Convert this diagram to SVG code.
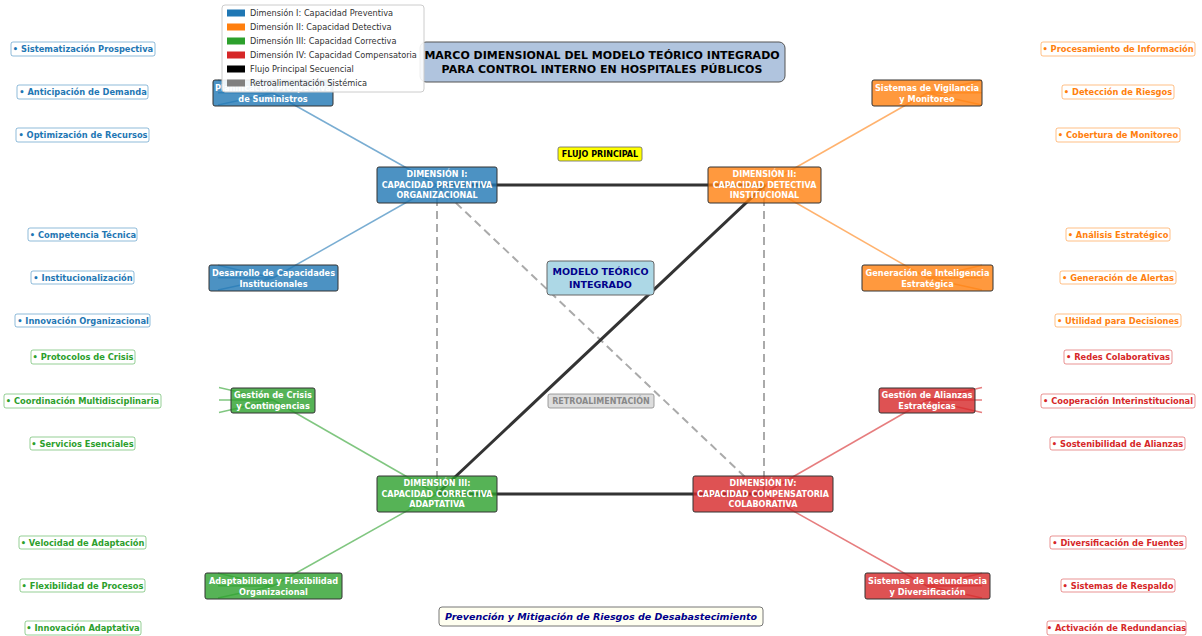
<svg xmlns="http://www.w3.org/2000/svg" width="1202" height="636" viewBox="0 0 1202 636">
<style>
text{font-family:"DejaVu Sans","Liberation Sans",sans-serif;}
.dim{stroke:#333;stroke-width:1;fill-opacity:0.8;}
.sub{stroke:#333;stroke-width:1;fill-opacity:0.8;}
.dt{fill:#fff;font-weight:bold;font-size:8px;text-anchor:middle;dominant-baseline:central;}
.st{fill:#fff;font-weight:bold;font-size:8.2px;text-anchor:middle;dominant-baseline:central;}
.bl{fill:#fff;stroke-width:1;stroke-opacity:0.5;}
.bt{font-weight:bold;font-size:8.3px;text-anchor:middle;dominant-baseline:central;}
.lb{stroke:#1f77b4;}
.lo{stroke:#ff7f0e;}
.lg{stroke:#2ca02c;}
.lr{stroke:#d62728;}
.cl{stroke-width:1.5;stroke-opacity:0.6;fill:none;}
.main{stroke:#333;stroke-width:3;fill:none;}
.fb{stroke:#aaa;stroke-width:2;stroke-dasharray:8,5;fill:none;}
.lt{font-size:8.2px;fill:#333;dominant-baseline:central;}
</style>
<rect width="1202" height="636" fill="#fff"/>
<g id="connectors">
  <line class="cl lb" x1="437" y1="185" x2="273" y2="93"/>
  <line class="cl lb" x1="437" y1="185" x2="273" y2="278"/>
  <line class="cl lo" x1="765" y1="185" x2="927" y2="93"/>
  <line class="cl lo" x1="765" y1="185" x2="927" y2="278"/>
  <line class="cl lg" x1="437" y1="494" x2="273" y2="400"/>
  <line class="cl lg" x1="437" y1="494" x2="273" y2="586"/>
  <line class="cl lr" x1="763" y1="494" x2="927" y2="400"/>
  <line class="cl lr" x1="763" y1="494" x2="927" y2="586"/>
  <path class="cl lb" d="M273 93L218 80.3M273 93L218 92.7M273 93L218 105.1M273 278L218 265.3M273 278L218 277.7M273 278L218 290.1"/>
  <path class="cl lg" d="M273 400L219 387.6M273 400L219 400M273 400L219 412.4M273 586L218 573.3M273 586L218 585.7M273 586L218 598.1"/>
  <path class="cl lo" d="M927 93L982 80.3M927 93L982 92.7M927 93L982 105.1M927 278L982 265.3M927 278L982 277.7M927 278L982 290.1"/>
  <path class="cl lr" d="M927 400L982 387.6M927 400L982 400M927 400L982 412.4M927 586L982 573.3M927 586L982 585.7M927 586L982 598.1"/>
  <line class="fb" x1="437" y1="185" x2="437" y2="494"/>
  <line class="fb" x1="764" y1="185" x2="764" y2="494"/>
  <line class="fb" x1="437" y1="185" x2="763" y2="494"/>
  <line class="main" x1="437" y1="185" x2="765" y2="185"/>
  <line class="main" x1="437" y1="494" x2="763" y2="494"/>
  <line class="main" x1="437" y1="494" x2="765" y2="185"/>
</g>

<g id="title">
  <rect x="420" y="42" width="365" height="40" rx="6" fill="#b0c4de" stroke="#555" stroke-width="1"/>
  <text x="602" y="55" font-weight="bold" font-size="11px" text-anchor="middle" dominant-baseline="central" fill="#000">MARCO DIMENSIONAL DEL MODELO TEÓRICO INTEGRADO</text>
  <text x="602" y="69.5" font-weight="bold" font-size="11px" text-anchor="middle" dominant-baseline="central" fill="#000">PARA CONTROL INTERNO EN HOSPITALES PÚBLICOS</text>
</g>

<g id="flujo-label">
  <rect x="558" y="147" width="84" height="14" rx="2" fill="#ffff00" stroke="#666" stroke-width="0.8"/>
  <text x="600" y="154" font-weight="bold" font-size="8px" text-anchor="middle" dominant-baseline="central" fill="#000">FLUJO PRINCIPAL</text>
</g>

<g id="centro">
  <rect x="547" y="261" width="107" height="34" rx="3" fill="#add8e6" stroke="#666" stroke-width="1"/>
  <text x="600.5" y="271" font-weight="bold" font-size="9.5px" text-anchor="middle" dominant-baseline="central" fill="#00008b">MODELO TEÓRICO</text>
  <text x="600.5" y="284" font-weight="bold" font-size="9.5px" text-anchor="middle" dominant-baseline="central" fill="#00008b">INTEGRADO</text>
</g>

<g id="retro-label">
  <rect x="548" y="394" width="106" height="14" rx="2" fill="#ddd" stroke="#888" stroke-width="0.8"/>
  <text x="601" y="401" font-weight="bold" font-size="8px" text-anchor="middle" dominant-baseline="central" fill="#888">RETROALIMENTACIÓN</text>
</g>

<g id="dim1">
  <rect class="dim" x="377" y="167" width="120" height="36" rx="2" fill="#1f77b4"/>
  <text class="dt" x="437" y="174.5">DIMENSIÓN I:</text>
  <text class="dt" x="437" y="185">CAPACIDAD PREVENTIVA</text>
  <text class="dt" x="437" y="195.5">ORGANIZACIONAL</text>
</g>
<g id="dim2">
  <rect class="dim" x="708" y="167" width="113" height="36" rx="2" fill="#ff7f0e"/>
  <text class="dt" x="764.5" y="174.5">DIMENSIÓN II:</text>
  <text class="dt" x="764.5" y="185">CAPACIDAD DETECTIVA</text>
  <text class="dt" x="764.5" y="195.5">INSTITUCIONAL</text>
</g>
<g id="dim3">
  <rect class="dim" x="377" y="476" width="120" height="36" rx="2" fill="#2ca02c"/>
  <text class="dt" x="437" y="483.5">DIMENSIÓN III:</text>
  <text class="dt" x="437" y="494">CAPACIDAD CORRECTIVA</text>
  <text class="dt" x="437" y="504.5">ADAPTATIVA</text>
</g>
<g id="dim4">
  <rect class="dim" x="693" y="476" width="140" height="36" rx="2" fill="#d62728"/>
  <text class="dt" x="763" y="483.5">DIMENSIÓN IV:</text>
  <text class="dt" x="763" y="494">CAPACIDAD COMPENSATORIA</text>
  <text class="dt" x="763" y="504.5">COLABORATIVA</text>
</g>

<g id="sub-planificacion">
  <rect class="sub" x="213" y="80" width="120" height="26" rx="2" fill="#1f77b4"/>
  <text class="st" x="273" y="87.5">Planificación Prospectiva</text>
  <text class="st" x="273" y="98.5">de Suministros</text>
</g>
<g id="sub-desarrollo">
  <rect class="sub" x="209" y="265" width="129" height="26" rx="2" fill="#1f77b4"/>
  <text class="st" x="273.5" y="272.5">Desarrollo de Capacidades</text>
  <text class="st" x="273.5" y="283.5">Institucionales</text>
</g>
<g id="sub-vigilancia">
  <rect class="sub" x="872" y="80" width="110" height="26" rx="2" fill="#ff7f0e"/>
  <text class="st" x="927" y="87.5">Sistemas de Vigilancia</text>
  <text class="st" x="927" y="98.5">y Monitoreo</text>
</g>
<g id="sub-inteligencia">
  <rect class="sub" x="862" y="265" width="131" height="26" rx="2" fill="#ff7f0e"/>
  <text class="st" x="927.5" y="272.5">Generación de Inteligencia</text>
  <text class="st" x="927.5" y="283.5">Estratégica</text>
</g>
<g id="sub-crisis">
  <rect class="sub" x="231" y="388" width="84" height="25" rx="2" fill="#2ca02c"/>
  <text class="st" x="273" y="395">Gestión de Crisis</text>
  <text class="st" x="273" y="406">y Contingencias</text>
</g>
<g id="sub-adaptabilidad">
  <rect class="sub" x="205" y="573" width="137" height="26" rx="2" fill="#2ca02c"/>
  <text class="st" x="273.5" y="580.5">Adaptabilidad y Flexibilidad</text>
  <text class="st" x="273.5" y="591.5">Organizacional</text>
</g>
<g id="sub-alianzas">
  <rect class="sub" x="879" y="388" width="96" height="25" rx="2" fill="#d62728"/>
  <text class="st" x="927" y="395">Gestión de Alianzas</text>
  <text class="st" x="927" y="406">Estratégicas</text>
</g>
<g id="sub-redundancia">
  <rect class="sub" x="865" y="573" width="125" height="26" rx="2" fill="#d62728"/>
  <text class="st" x="927.5" y="580.5">Sistemas de Redundancia</text>
  <text class="st" x="927.5" y="591.5">y Diversificación</text>
</g>

<g id="ind-blue">
  <rect class="bl lb" x="11" y="42" width="144" height="14" rx="2"/><text class="bt" x="83" y="49" fill="#1f77b4">• Sistematización Prospectiva</text>
  <rect class="bl lb" x="17" y="85" width="131" height="14" rx="2"/><text class="bt" x="83" y="92" fill="#1f77b4">• Anticipación de Demanda</text>
  <rect class="bl lb" x="16" y="128" width="133" height="14" rx="2"/><text class="bt" x="83" y="135" fill="#1f77b4">• Optimización de Recursos</text>
  <rect class="bl lb" x="28" y="228" width="109" height="13" rx="2"/><text class="bt" x="83" y="234.5" fill="#1f77b4">• Competencia Técnica</text>
  <rect class="bl lb" x="31" y="271" width="103" height="13" rx="2"/><text class="bt" x="83" y="277.5" fill="#1f77b4">• Institucionalización</text>
  <rect class="bl lb" x="15" y="314" width="135" height="13" rx="2"/><text class="bt" x="83" y="320.5" fill="#1f77b4">• Innovación Organizacional</text>
</g>
<g id="ind-green">
  <rect class="bl lg" x="31" y="350" width="104" height="14" rx="2"/><text class="bt" x="83" y="357" fill="#2ca02c">• Protocolos de Crisis</text>
  <rect class="bl lg" x="4" y="394" width="157" height="14" rx="2"/><text class="bt" x="82.5" y="401" fill="#2ca02c">• Coordinación Multidisciplinaria</text>
  <rect class="bl lg" x="30" y="437" width="105" height="13" rx="2"/><text class="bt" x="82.5" y="443.5" fill="#2ca02c">• Servicios Esenciales</text>
  <rect class="bl lg" x="19" y="536" width="127" height="13" rx="2"/><text class="bt" x="82.5" y="542.5" fill="#2ca02c">• Velocidad de Adaptación</text>
  <rect class="bl lg" x="20" y="579" width="125" height="13" rx="2"/><text class="bt" x="82.5" y="585.5" fill="#2ca02c">• Flexibilidad de Procesos</text>
  <rect class="bl lg" x="25" y="621" width="116" height="14" rx="2"/><text class="bt" x="83" y="628" fill="#2ca02c">• Innovación Adaptativa</text>
</g>
<g id="ind-orange">
  <rect class="bl lo" x="1041" y="42" width="154" height="14" rx="2"/><text class="bt" x="1118" y="49" fill="#ff7f0e">• Procesamiento de Información</text>
  <rect class="bl lo" x="1062" y="85" width="112" height="14" rx="2"/><text class="bt" x="1118" y="92" fill="#ff7f0e">• Detección de Riesgos</text>
  <rect class="bl lo" x="1056" y="128" width="124" height="14" rx="2"/><text class="bt" x="1118" y="135" fill="#ff7f0e">• Cobertura de Monitoreo</text>
  <rect class="bl lo" x="1066" y="228" width="104" height="13" rx="2"/><text class="bt" x="1118" y="234.5" fill="#ff7f0e">• Análisis Estratégico</text>
  <rect class="bl lo" x="1060" y="271" width="116" height="13" rx="2"/><text class="bt" x="1118" y="277.5" fill="#ff7f0e">• Generación de Alertas</text>
  <rect class="bl lo" x="1055" y="314" width="126" height="13" rx="2"/><text class="bt" x="1118" y="320.5" fill="#ff7f0e">• Utilidad para Decisiones</text>
</g>
<g id="ind-red">
  <rect class="bl lr" x="1064" y="350" width="108" height="14" rx="2"/><text class="bt" x="1118" y="357" fill="#d62728">• Redes Colaborativas</text>
  <rect class="bl lr" x="1041" y="394" width="154" height="14" rx="2"/><text class="bt" x="1118" y="401" fill="#d62728">• Cooperación Interinstitucional</text>
  <rect class="bl lr" x="1050" y="437" width="135" height="13" rx="2"/><text class="bt" x="1117.5" y="443.5" fill="#d62728">• Sostenibilidad de Alianzas</text>
  <rect class="bl lr" x="1050" y="536" width="136" height="13" rx="2"/><text class="bt" x="1118" y="542.5" fill="#d62728">• Diversificación de Fuentes</text>
  <rect class="bl lr" x="1061" y="579" width="114" height="13" rx="2"/><text class="bt" x="1118" y="585.5" fill="#d62728">• Sistemas de Respaldo</text>
  <rect class="bl lr" x="1047" y="621" width="139" height="14" rx="2"/><text class="bt" x="1116.5" y="628" fill="#d62728">• Activación de Redundancias</text>
</g>

<g id="footer">
  <rect x="439" y="607" width="324" height="19" rx="3" fill="#fffff0" stroke="#777" stroke-width="1"/>
  <text x="601" y="616.5" font-weight="bold" font-style="italic" font-size="9.5px" text-anchor="middle" dominant-baseline="central" fill="#00008b">Prevención y Mitigación de Riesgos de Desabastecimiento</text>
</g>

<g id="legend">
  <rect x="222" y="5" width="202" height="87" rx="3" fill="#fff" fill-opacity="0.9" stroke="#ccc" stroke-width="1"/>
  <rect x="227" y="9.5" width="18" height="7" fill="#1f77b4"/><text class="lt" x="250" y="13">Dimensión I: Capacidad Preventiva</text>
  <rect x="227" y="23.5" width="18" height="7" fill="#ff7f0e"/><text class="lt" x="250" y="27">Dimensión II: Capacidad Detectiva</text>
  <rect x="227" y="37.5" width="18" height="7" fill="#2ca02c"/><text class="lt" x="250" y="41">Dimensión III: Capacidad Correctiva</text>
  <rect x="227" y="51.5" width="18" height="7" fill="#d62728"/><text class="lt" x="250" y="55">Dimensión IV: Capacidad Compensatoria</text>
  <rect x="227" y="65.5" width="18" height="7" fill="#000"/><text class="lt" x="250" y="69">Flujo Principal Secuencial</text>
  <rect x="227" y="79.5" width="18" height="7" fill="#808080"/><text class="lt" x="250" y="83">Retroalimentación Sistémica</text>
</g>
</svg>
